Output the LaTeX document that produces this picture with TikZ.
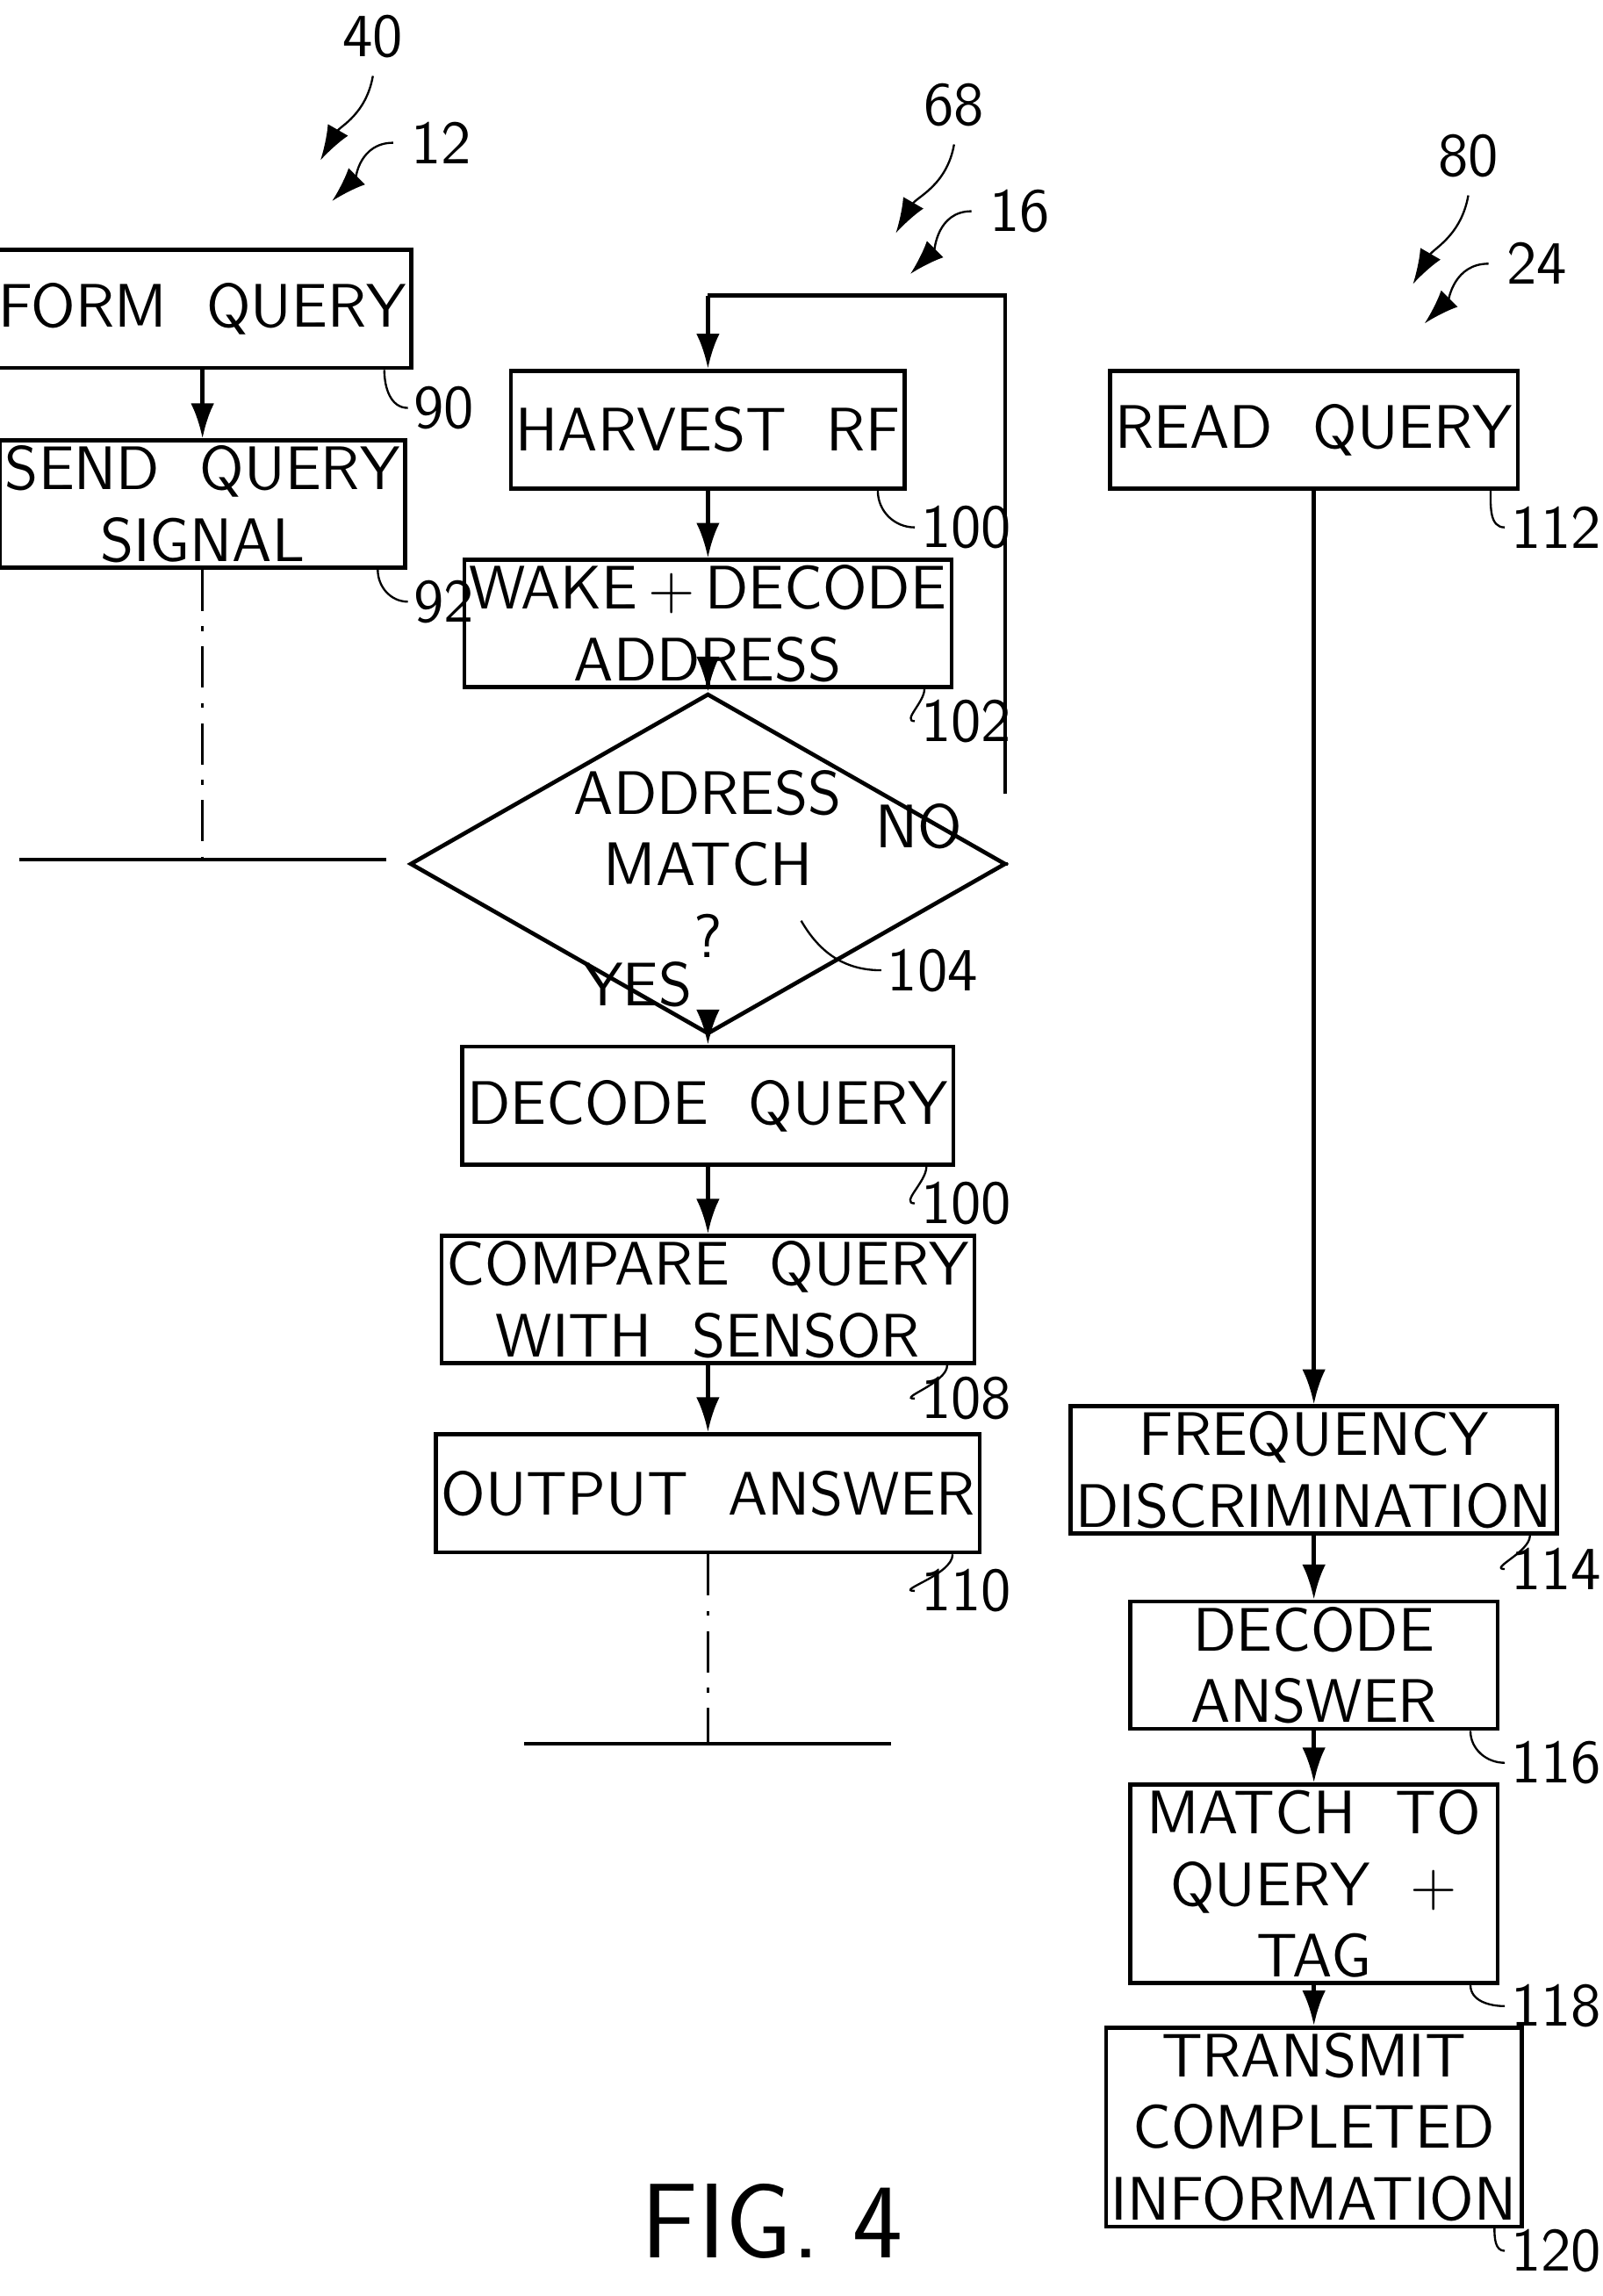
\documentclass[tikz,border=0pt]{standalone}
\usetikzlibrary{positioning, shapes.geometric, arrows.meta}
\tikzset{
Step/.style={
	draw, thick,
	align=center,
	minimum width=2.52cm,
	minimum height=0.81cm,
	inner sep=1pt,
	font=\sffamily\large
},
TallStep/.style={
	Step,
	minimum height=1.15cm
},
Decision/.style={
	draw, thick, diamond,
	aspect=1.75,
	minimum width=2.52cm,
	minimum height=1.46cm,
	inner sep=0pt,
	align=center,
	font=\sffamily\large
},
Flow/.style={
	draw, thick,
	-{Latex[length=2.4mm,width=1.6mm]}
},
Line/.style={
	draw, thick
},
DashDot/.style={
	draw, thin, dash pattern=on 8pt off 3pt on 1pt off 3pt
},
Ref/.style={
	font=\sffamily\large, inner sep=1pt, anchor=west
},
Leader/.style={
	draw, thin
}
}
\newcommand{\Leader}[2]{\draw[Leader] ([xshift=-0.2cm]#1.south east) to[out=-90,in=180] (#2.west);}
\begin{document}
\begin{tikzpicture}[x=0.01cm,y=-0.01cm]
	\useasboundingbox (0,0) rectangle (1100,1576);

	% reader side
	\node[Step] (form) at (139,212) {FORM\ \ QUERY};
	\node[Step] (send) at (139,346) {SEND\ \ QUERY\\SIGNAL};
	\coordinate (sendend) at (139,590);
	\coordinate (leftA) at (13,590);
	\coordinate (leftB) at (265,590);
	\draw[Flow] (form) -- (send);
	\draw[DashDot] (send) -- (sendend);
	\draw[Line] (leftA) -- (leftB);

	% sensor side
	\node[Step] (harvest) at (486,295) {HARVEST\ \ RF};
	\node[Step] (wake) at (486,428) {WAKE\,+\,DECODE\\ADDRESS};
	\node[Decision] (match) at (486,593) {ADDRESS\\MATCH\\?};
	\node[Step] (decode) at (486,759) {DECODE\ \ QUERY};
	\node[Step] (compare) at (486,892) {COMPARE\ \ QUERY\\WITH\ \ SENSOR};
	\node[Step] (output) at (486,1025) {OUTPUT\ \ ANSWER};
	\coordinate (outend) at (486,1197);
	\coordinate (midA) at (360,1197);
	\coordinate (midB) at (612,1197);
	\coordinate (noend) at (690,593);
	\coordinate (loopA) at (690,545);
	\coordinate (loopB) at (690,203);
	\coordinate (loopC) at (486,203);
	\draw[Flow] (harvest) -- (wake);
	\draw[Flow] (wake) -- (match);
	\draw[Flow] (match) -- (decode);
	\draw[Flow] (decode) -- (compare);
	\draw[Flow] (compare) -- (output);
	\draw[DashDot] (output) -- (outend);
	\draw[Line] (midA) -- (midB);
	\draw[Line] (match.east) -- (noend);
	\draw[Line] (loopA) -- (loopB) -- (loopC);
	\draw[Flow] (loopC) -- (harvest);
	\node[font=\sffamily\large] (no) at (631,567) {NO};
	\node[font=\sffamily\large] (yes) at (438,676) {YES};

	% tag reader side
	\node[Step] (read) at (902,295) {READ\ \ QUERY};
	\node[Step] (freq) at (902,1009) {FREQUENCY\\DISCRIMINATION};
	\node[Step] (answer) at (902,1143) {DECODE\\ANSWER};
	\node[TallStep] (tag) at (902,1293) {MATCH\ \ TO\\QUERY\ \ +\\TAG};
	\node[TallStep] (transmit) at (902,1460) {TRANSMIT\\COMPLETED\\INFORMATION};
	\draw[Flow] (read) -- (freq);
	\draw[Flow] (freq) -- (answer);
	\draw[Flow] (answer) -- (tag);
	\draw[Flow] (tag) -- (transmit);

	% reference numerals
	\node[Ref] (r90) at (280,280) {90};
	\node[Ref] (r92) at (280,413) {92};
	\node[Ref] (r100a) at (628,362) {100};
	\node[Ref] (r102) at (628,495) {102};
	\node[Ref] (r104) at (605,666) {104};
	\node[Ref] (r100b) at (628,826) {100};
	\node[Ref] (r108) at (628,960) {108};
	\node[Ref] (r110) at (628,1092) {110};
	\node[Ref] (r112) at (1033,362) {112};
	\node[Ref] (r114) at (1033,1077) {114};
	\node[Ref] (r116) at (1033,1210) {116};
	\node[Ref] (r118) at (1033,1377) {118};
	\node[Ref] (r120) at (1033,1545) {120};
	\Leader{form}{r90}
	\Leader{send}{r92}
	\Leader{harvest}{r100a}
	\Leader{wake}{r102}
	\Leader{decode}{r100b}
	\Leader{compare}{r108}
	\Leader{output}{r110}
	\Leader{read}{r112}
	\Leader{freq}{r114}
	\Leader{answer}{r116}
	\Leader{tag}{r118}
	\Leader{transmit}{r120}
	\coordinate (d104) at (550,632);
	\draw[Leader] (d104) to[out=-60,in=180] (r104.west);

	% figure callouts
	\node[font=\sffamily\large] (n40) at (256,25) {40};
	\node[font=\sffamily\large] (n12) at (303,98) {12};
	\node[font=\sffamily\large] (n68) at (655,72) {68};
	\node[font=\sffamily\large] (n16) at (700,145) {16};
	\node[font=\sffamily\large] (n80) at (1008,107) {80};
	\node[font=\sffamily\large] (n24) at (1055,181) {24};
	\coordinate (a40) at (220,110);
	\coordinate (a12) at (228,138);
	\coordinate (a68) at (615,160);
	\coordinate (a16) at (625,188);
	\coordinate (a80) at (970,195);
	\coordinate (a24) at (978,222);
	\draw[Flow, thin] (n40.south) to[out=-100,in=60] (a40);
	\draw[Flow, thin] (n12.west) to[out=180,in=45] (a12);
	\draw[Flow, thin] (n68.south) to[out=-100,in=60] (a68);
	\draw[Flow, thin] (n16.west) to[out=180,in=45] (a16);
	\draw[Flow, thin] (n80.south) to[out=-100,in=60] (a80);
	\draw[Flow, thin] (n24.west) to[out=180,in=45] (a24);

	\node[font=\sffamily\huge] (fig) at (530,1525) {FIG. 4};
\end{tikzpicture}
\end{document}
